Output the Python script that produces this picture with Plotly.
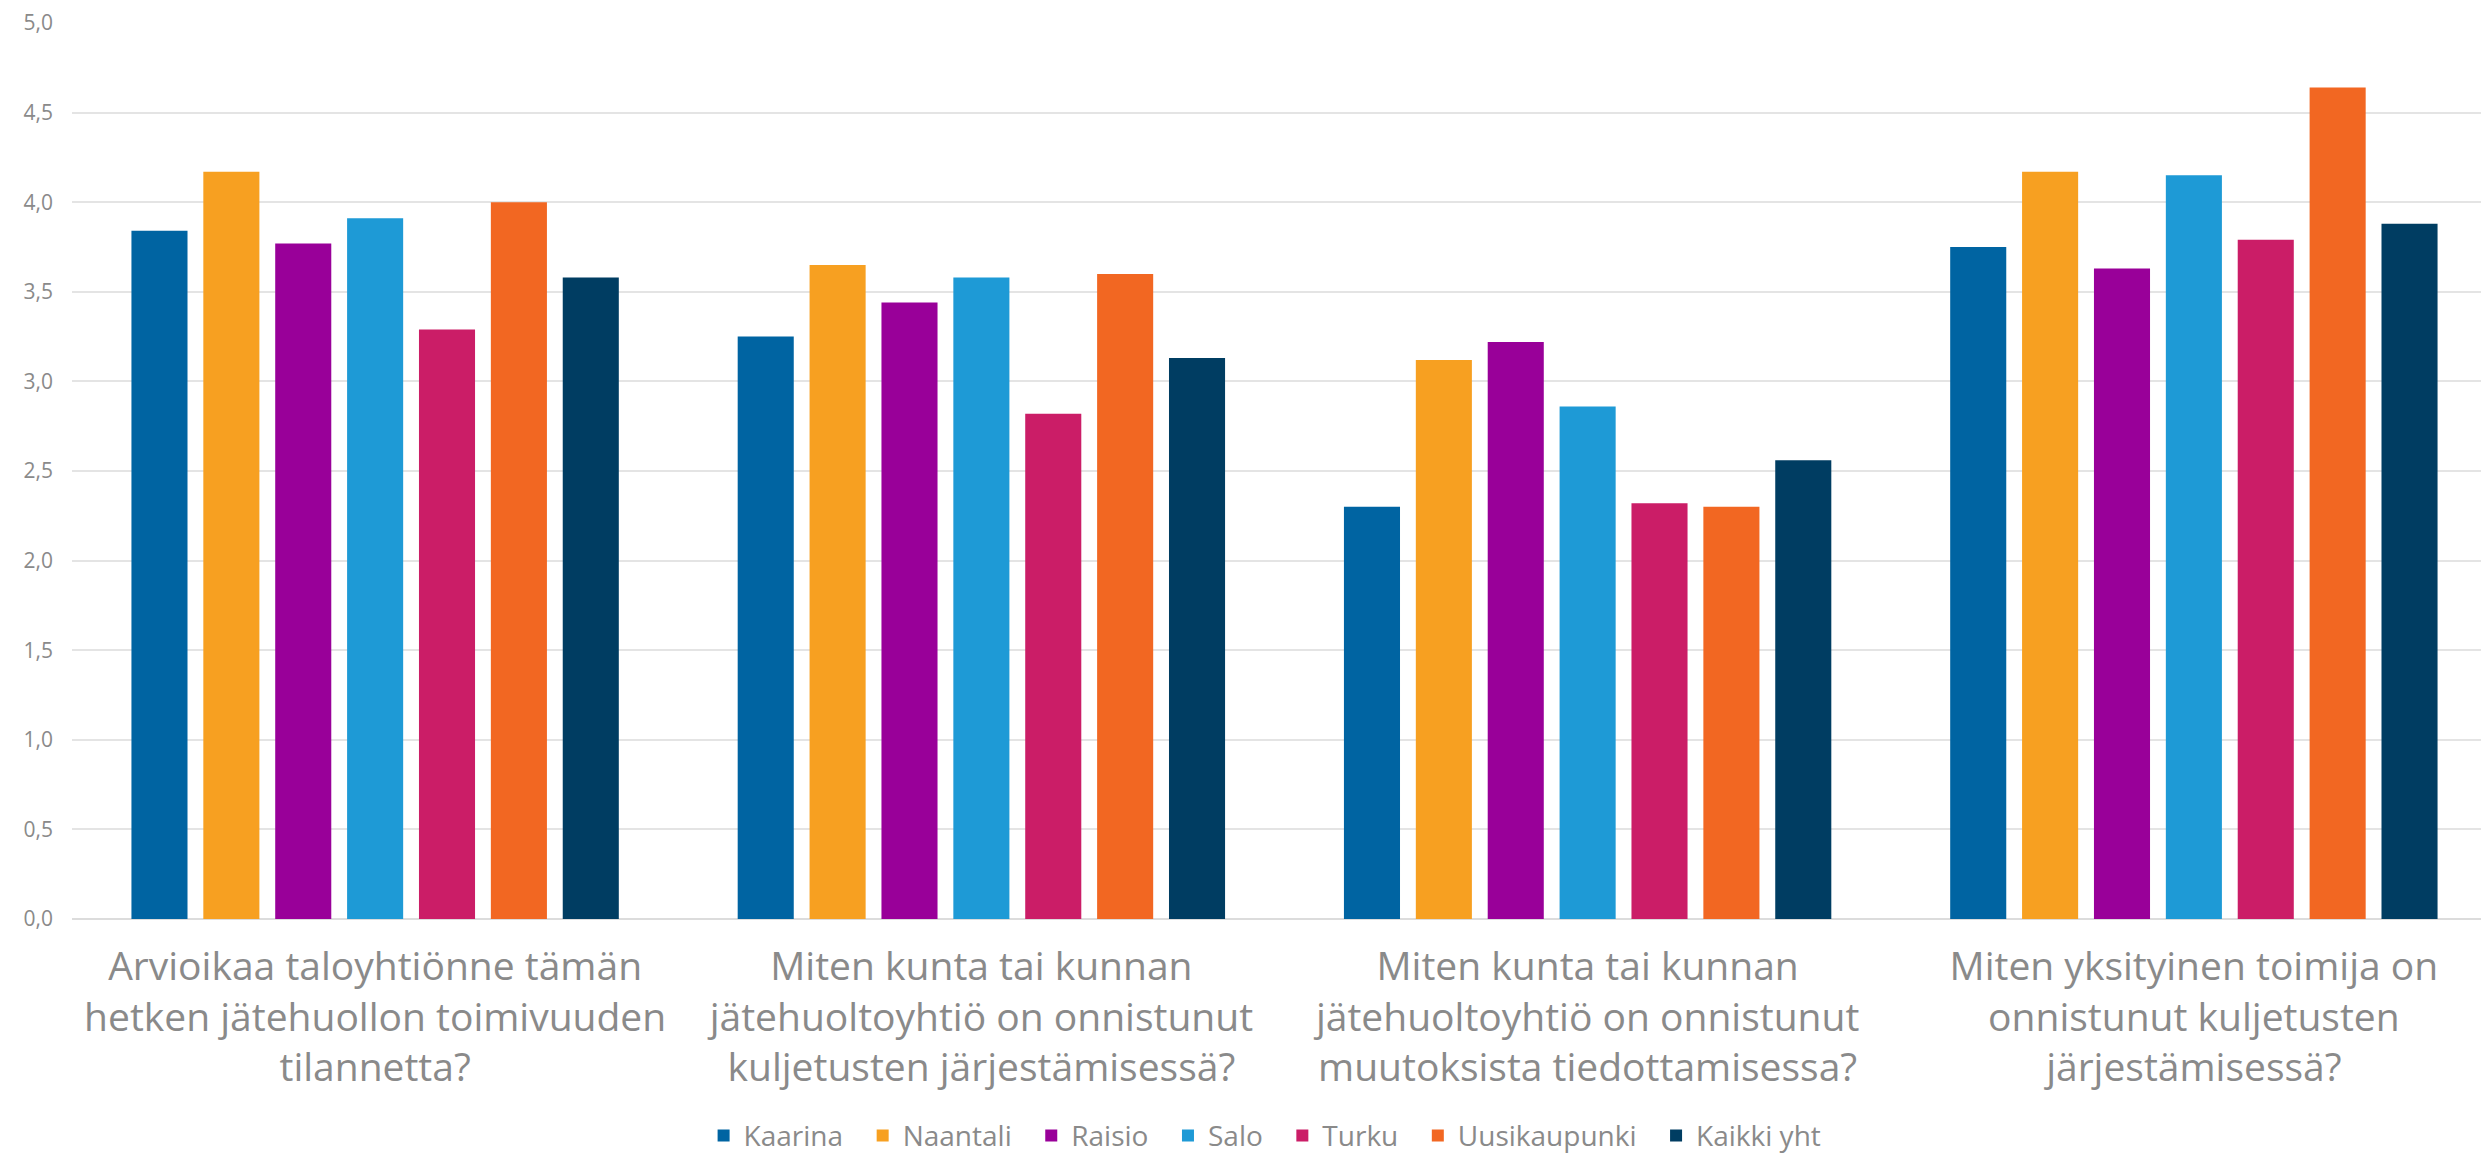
import plotly.graph_objects as go

categories = [
    "Arvioikaa taloyhtiönne tämän<br>hetken jätehuollon toimivuuden<br>tilannetta?",
    "Miten kunta tai kunnan<br>jätehuoltoyhtiö on onnistunut<br>kuljetusten järjestämisessä?",
    "Miten kunta tai kunnan<br>jätehuoltoyhtiö on onnistunut<br>muutoksista tiedottamisessa?",
    "Miten yksityinen toimija on<br>onnistunut kuljetusten<br>järjestämisessä?",
]
series_names = ["Kaarina", "Naantali", "Raisio", "Salo", "Turku", "Uusikaupunki", "Kaikki yht"]
kaarina = [3.84, 3.25, 2.30, 3.75]
naantali = [4.17, 3.65, 3.12, 4.17]
raisio = [3.77, 3.44, 3.22, 3.63]
salo = [3.91, 3.58, 2.86, 4.15]
turku = [3.29, 2.82, 2.32, 3.79]
uusikaupunki = [4.00, 3.60, 2.30, 4.64]
kaikki = [3.58, 3.13, 2.56, 3.88]
series_values = [kaarina, naantali, raisio, salo, turku, uusikaupunki, kaikki]
colors = ["#0064A2", "#F7A021", "#990099", "#1E9AD6", "#CB1D67", "#F26722", "#003D62"]
y_ticks = [0, 0.5, 1, 1.5, 2, 2.5, 3, 3.5, 4, 4.5, 5]

FONT = "Open Sans"
GRAY = "#8a8a8a"
PAD = "\u00a0\u00a0"

fig = go.Figure()
for i, (name, vals, col) in enumerate(zip(series_names, series_values, colors)):
    label = name + (PAD if i < len(series_names) - 1 else "")
    fig.add_trace(go.Bar(x=list(range(len(categories))), y=vals, name=label,
                         marker=dict(color=col, line=dict(width=0))))

fig.update_layout(
    width=2489, height=1156,
    paper_bgcolor="white", plot_bgcolor="white",
    separators=", ",
    barmode="group", bargap=0.17, bargroupgap=0.22,
    margin=dict(l=64, r=0, t=15, b=245, autoexpand=False),
    font=dict(family=FONT, color=GRAY),
    showlegend=True,
    legend=dict(orientation="h", x=0.492, xanchor="center", y=-0.242, yanchor="middle",
                font=dict(size=28, color=GRAY, family=FONT), traceorder="normal",
                itemwidth=30),
    xaxis=dict(tickmode="array", tickvals=list(range(len(categories))), ticktext=categories,
               tickfont=dict(size=39, color=GRAY, family=FONT), showgrid=False,
               showline=False, zeroline=False, ticks="", ticklabelstandoff=21,
               range=[-0.5, len(categories) - 0.5]),
    yaxis=dict(range=[0, 5], tickvals=y_ticks, tickformat=".1f",
               tickfont=dict(size=21, color=GRAY, family=FONT),
               showgrid=True, gridcolor="#e4e4e4", gridwidth=2,
               zeroline=True, zerolinecolor="#dcdcdc", zerolinewidth=2,
               showline=False, ticks="", ticklabelstandoff=18),
)

fig.write_html("out.html")
